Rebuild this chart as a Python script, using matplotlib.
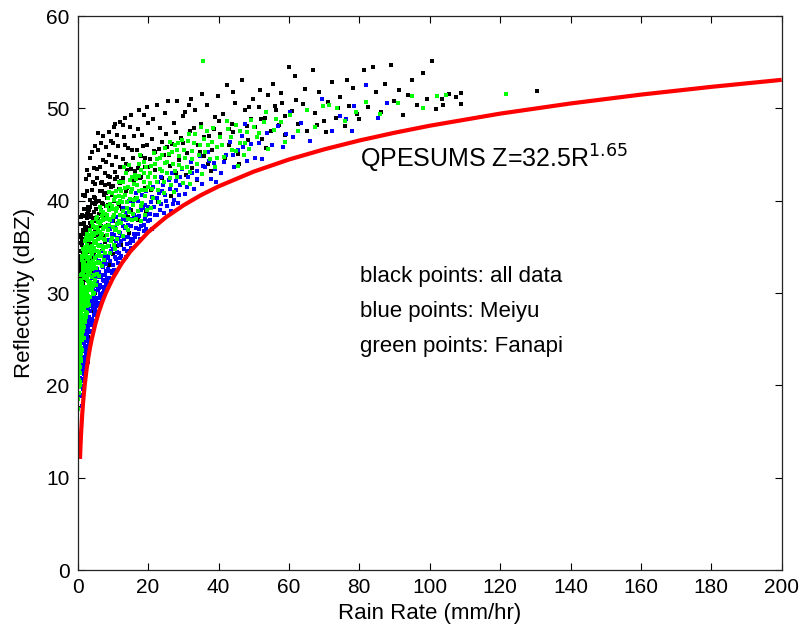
import matplotlib
matplotlib.use("Agg")
import matplotlib.pyplot as plt

plt.rcParams['font.family'] = ['Liberation Sans', 'DejaVu Sans']

# ---- data (rain rate mm/hr, reflectivity dBZ) ----
black_pts = [
    # R 0-1
    (0.1, 26.3), (0.2, 28.5), (0.3, 30.8), (0.4, 32.9), (0.5, 25.1), (0.6, 27.7), (0.7, 29.9), (0.8, 31.8),
    (0.9, 34.0), (1.0, 28.2), (0.1, 33.1), (0.2, 24.2), (0.3, 35.4), (0.4, 26.8), (0.5, 31.5), (0.6, 33.6),
    (0.7, 22.3), (0.8, 25.9), (0.9, 30.3), (1.0, 36.1), (0.2, 31.2), (0.3, 20.1), (0.4, 29.4), (0.5, 37.5),
    (0.6, 23.6), (0.7, 32.7), (0.8, 38.2), (0.9, 27.0), (0.2, 17.6), (1.0, 32.4),
    # R 1-2
    (1.1, 30.9), (1.2, 33.3), (1.3, 35.6), (1.4, 31.2), (1.5, 33.9), (1.6, 36.4), (1.7, 29.8), (1.8, 32.2),
    (1.9, 34.7), (2.0, 37.0), (1.1, 27.5), (1.2, 38.4), (1.3, 29.2), (1.4, 36.8), (1.5, 24.6), (1.6, 31.0),
    (1.7, 39.1), (1.8, 28.4), (1.9, 31.5), (2.0, 40.6), (1.1, 35.2), (1.2, 26.0), (1.3, 32.0), (1.4, 40.6),
    (1.5, 29.7), (1.6, 34.2), (1.7, 26.8), (1.8, 37.6), (1.9, 22.5), (2.0, 29.1),
    # R 2-3
    (2.1, 32.6), (2.2, 35.0), (2.3, 37.2), (2.4, 33.5), (2.5, 35.8), (2.6, 38.1), (2.7, 32.1), (2.8, 34.4),
    (2.9, 36.8), (3.0, 39.3), (2.1, 28.3), (2.2, 40.5), (2.3, 31.4), (2.4, 42.3), (2.5, 29.0), (2.6, 33.7),
    (2.7, 41.0), (2.8, 30.6), (2.9, 25.2), (3.0, 35.5), (2.2, 24.0), (2.5, 43.3), (2.7, 36.5), (2.9, 38.9),
    (2.3, 27.1),
    # R 3-5
    (3.1, 34.6), (3.2, 36.9), (3.3, 39.0), (3.4, 35.3), (3.5, 37.6), (3.6, 40.1), (3.7, 33.8), (3.8, 36.2),
    (3.9, 38.4), (4.0, 41.2), (4.1, 35.0), (4.2, 37.3), (4.3, 42.0), (4.4, 36.4), (4.5, 38.8), (4.6, 43.5),
    (4.7, 34.1), (4.8, 39.6), (4.9, 41.8), (5.0, 36.7), (3.2, 30.5), (3.5, 44.6), (3.8, 28.1), (4.1, 45.3),
    (4.4, 32.2), (4.7, 40.4), (5.0, 30.0), (3.3, 42.8), (4.3, 26.5), (4.9, 45.9),
    # R 5-8
    (5.2, 37.8), (5.4, 40.0), (5.6, 42.5), (5.8, 36.3), (6.0, 38.6), (6.2, 41.1), (6.4, 43.6), (6.6, 37.3),
    (6.8, 39.7), (7.0, 42.0), (7.2, 44.4), (7.4, 38.1), (7.6, 40.6), (7.8, 43.0), (8.0, 39.4), (5.3, 33.9),
    (5.7, 45.5), (6.1, 31.9), (6.5, 46.2), (6.9, 34.6), (7.3, 47.0), (7.7, 35.5), (5.5, 43.4), (6.3, 28.9),
    (7.1, 36.2), (7.9, 45.8), (5.9, 47.3), (6.7, 41.9), (7.5, 30.4), (5.1, 39.9),
    # R 8-12
    (8.3, 40.3), (8.6, 42.7), (8.9, 45.0), (9.2, 39.2), (9.5, 41.5), (9.8, 43.9), (10.1, 46.2), (10.4, 40.0),
    (10.7, 42.4), (11.0, 44.7), (11.3, 47.1), (11.6, 41.3), (11.9, 43.6), (8.5, 37.4), (9.0, 47.4), (9.6, 35.9),
    (10.2, 48.0), (10.9, 38.2), (11.5, 45.9), (8.8, 33.0), (9.9, 37.8), (11.1, 35.1), (10.5, 48.3), (12.0, 48.5),
    (8.1, 44.2), (9.4, 46.5), (11.8, 39.4), (10.0, 34.2),
    # R 12-16
    (12.4, 42.1), (12.8, 44.5), (13.2, 46.9), (13.6, 41.0), (14.0, 43.3), (14.4, 45.7), (14.8, 48.0), (15.2, 42.2),
    (15.6, 44.6), (16.0, 47.0), (12.6, 39.1), (13.4, 46.0), (14.2, 38.2), (15.0, 49.3), (15.8, 40.0), (13.0, 48.2),
    (14.6, 36.5), (15.4, 45.5), (12.2, 35.2), (13.8, 44.0), (15.1, 39.0), (13.4, 49.0),
    # R 16-20
    (16.4, 43.2), (16.8, 45.5), (17.2, 47.8), (17.6, 42.5), (18.0, 44.8), (18.4, 47.1), (18.8, 49.3), (19.2, 43.6),
    (19.6, 46.0), (20.0, 48.4), (16.6, 40.3), (17.4, 49.8), (18.2, 39.6), (19.0, 41.4), (19.8, 50.2), (17.0, 37.9),
    (18.6, 45.9), (19.4, 38.8),
    # R 20-30
    (20.5, 44.5), (21.0, 46.7), (21.5, 48.9), (22.0, 43.3), (22.5, 50.4), (23.0, 45.6), (23.5, 47.9), (24.0, 42.5),
    (24.5, 44.9), (25.0, 47.2), (25.6, 50.8), (26.2, 43.8), (26.8, 46.1), (27.4, 48.4), (28.2, 50.8), (28.8, 44.4),
    (29.4, 46.8), (30.0, 49.2), (20.8, 41.2), (22.8, 39.9), (24.8, 49.5), (26.5, 40.5), (27.8, 43.0), (29.1, 41.7),
    (21.8, 45.4), (25.3, 45.8),
    # R 30-40
    (30.5, 49.6), (31.0, 45.2), (31.8, 47.5), (32.6, 43.5), (33.4, 49.8), (34.2, 46.0), (35.0, 48.3), (35.8, 44.8),
    (36.6, 50.4), (37.4, 47.0), (38.2, 45.5), (39.0, 49.1), (39.8, 51.3), (30.8, 42.8), (32.2, 51.0), (33.8, 42.2),
    (35.4, 51.6), (36.9, 44.0), (38.6, 47.8), (34.6, 45.3), (37.8, 43.2), (31.5, 50.4),
    # R 40-50
    (40.5, 47.2), (41.3, 49.4), (42.4, 52.5), (43.0, 46.0), (43.8, 48.3), (44.6, 50.6), (45.4, 45.1), (46.2, 47.5),
    (46.7, 53.1), (47.5, 49.8), (48.3, 46.6), (49.1, 48.9), (49.9, 51.0), (41.8, 44.6), (44.0, 51.8), (45.9, 44.0),
    (48.7, 50.2), (42.9, 47.8),
    # R 50-60
    (50.5, 48.0), (51.4, 50.2), (52.3, 46.7), (53.2, 49.0), (54.1, 51.4), (55.0, 47.6), (55.4, 52.6), (56.3, 49.8),
    (57.2, 48.2), (58.1, 50.6), (59.0, 47.1), (59.9, 54.5), (51.8, 52.0), (53.6, 45.7), (57.8, 51.7), (58.8, 49.2),
    # R 60-80
    (60.8, 49.7), (61.6, 53.5), (62.6, 48.3), (63.9, 50.5), (65.2, 47.6), (66.8, 54.2), (67.5, 49.5), (68.6, 51.8),
    (69.9, 48.6), (71.0, 50.7), (72.2, 52.9), (73.4, 49.0), (74.6, 51.2), (75.8, 48.1), (77.0, 50.3), (78.2, 52.2),
    (79.4, 49.4), (64.5, 52.1), (70.5, 47.4), (76.4, 53.1),
    # R 80-130
    (81.3, 54.2), (82.5, 50.1), (83.9, 54.5), (84.8, 51.8), (86.1, 49.6), (87.4, 52.6), (88.9, 54.7), (89.8, 50.8),
    (91.2, 52.0), (92.5, 49.3), (93.7, 51.5), (95.0, 53.1), (96.4, 50.4), (98.1, 53.8), (99.3, 51.0), (100.6, 55.1),
    (101.8, 49.9), (103.6, 51.0), (103.7, 50.4), (105.5, 51.6), (107.6, 51.2), (108.8, 51.7), (108.8, 50.5),
    (130.5, 51.9),
    # core
    (0.15, 29.4), (0.35, 27.3), (0.55, 34.6), (0.75, 36.3), (0.95, 31.0), (1.15, 33.8), (1.35, 37.5), (1.55, 35.9),
    (1.75, 33.1), (1.95, 38.3), (2.15, 36.6), (2.35, 34.5), (2.55, 37.0), (2.75, 38.6), (2.95, 35.2), (3.15, 38.2),
    (3.35, 36.0), (3.55, 39.3), (3.75, 37.1), (3.95, 35.8), (4.15, 39.8), (4.35, 38.0), (4.55, 36.2), (4.75, 38.1),
    (4.95, 40.3), (5.3, 39.1), (5.7, 38.0), (6.1, 40.0), (6.5, 39.0), (6.9, 41.0), (7.3, 39.6), (7.7, 41.7),
    (8.1, 40.8), (8.5, 39.5), (8.9, 41.8), (9.3, 42.6), (9.7, 40.6), (10.1, 41.6), (10.5, 43.1), (10.9, 41.0),
    (11.3, 42.6), (12.0, 41.9), (13.0, 42.5), (14.0, 41.4), (15.0, 43.4), (16.0, 42.1), (17.0, 43.5), (18.0, 42.6),
    (19.0, 44.6), (20.0, 43.6), (22.0, 45.3), (24.0, 46.4), (26.0, 45.0), (28.0, 47.4), (30.0, 46.2), (33.0, 47.9),
    (36.0, 46.9), (40.0, 48.6), (44.0, 47.4), (48.0, 48.1), (52.0, 48.8), (56.0, 50.3), (62.0, 50.9), (68.0, 48.2),
    (74.0, 50.0), (80.0, 48.9),
]

blue_pts = [
    (0.3, 27.5), (0.5, 29.2), (0.7, 26.4), (0.9, 24.0), (0.4, 22.3), (0.6, 20.8), (0.8, 28.6), (1.0, 21.9),
    (0.2, 30.0), (0.9, 18.8), (0.7, 23.5), (0.5, 25.1),
    (1.1, 19.0), (1.2, 21.4), (1.3, 23.8), (1.4, 20.5), (1.5, 22.7), (1.6, 25.0), (1.7, 21.8), (1.8, 24.1),
    (1.9, 26.3), (2.0, 22.9), (1.1, 24.6), (1.2, 17.8), (1.3, 26.9), (1.4, 25.2), (1.5, 19.6), (1.6, 22.0),
    (1.7, 27.4), (1.8, 21.2), (1.9, 23.7), (2.0, 25.8),
    (2.1, 21.9), (2.2, 24.3), (2.3, 26.5), (2.4, 23.0), (2.5, 25.4), (2.6, 27.7), (2.7, 24.2), (2.8, 26.6),
    (2.9, 28.5), (3.0, 24.9), (2.1, 26.8), (2.2, 22.4), (2.3, 28.9), (2.4, 25.7), (2.5, 23.5), (2.6, 24.8),
    (2.7, 27.9), (2.8, 23.9), (2.9, 26.0), (3.0, 28.2),
    (3.1, 24.6), (3.2, 26.9), (3.3, 29.3), (3.4, 25.8), (3.5, 28.1), (3.6, 30.4), (3.7, 26.5), (3.8, 28.8),
    (3.9, 31.0), (4.0, 27.2), (4.1, 29.5), (4.2, 26.8), (4.3, 28.4), (4.4, 30.7), (4.5, 27.6), (4.6, 29.8),
    (4.7, 31.6), (4.8, 28.3), (4.9, 30.2), (5.0, 27.9), (3.3, 27.4), (3.7, 24.9), (4.1, 32.0), (4.5, 26.3),
    (4.9, 32.4), (3.5, 31.3),
    (5.1, 28.6), (5.3, 30.8), (5.5, 32.6), (5.7, 29.5), (5.9, 31.7), (6.1, 33.5), (6.3, 29.9), (6.5, 32.0),
    (6.7, 34.0), (6.9, 30.6), (7.1, 32.8), (7.3, 34.5), (7.5, 31.3), (7.7, 33.4), (7.9, 30.9), (5.2, 33.9),
    (5.6, 27.9), (6.0, 30.5), (6.4, 28.9), (6.8, 33.1), (7.2, 30.0), (7.6, 35.0), (8.0, 32.4), (5.4, 31.2),
    (6.2, 35.2), (7.0, 29.6),
    (8.2, 31.6), (8.5, 33.8), (8.8, 35.7), (9.1, 32.4), (9.4, 34.6), (9.7, 36.4), (10.0, 33.0), (10.3, 35.2),
    (10.6, 37.0), (10.9, 33.7), (11.2, 35.9), (11.5, 37.6), (11.8, 34.3), (12.0, 36.5), (8.4, 36.3), (9.0, 31.6),
    (9.6, 37.8), (10.2, 32.5), (10.8, 38.2), (11.4, 33.3), (8.7, 34.0), (11.0, 36.8),
    (12.3, 34.0), (12.6, 36.2), (12.9, 38.0), (13.2, 34.8), (13.5, 37.0), (13.8, 38.7), (14.1, 35.3), (14.4, 37.4),
    (14.7, 39.1), (15.0, 35.9), (15.3, 38.0), (15.6, 39.6), (15.9, 36.4), (12.8, 39.2), (13.6, 33.9), (14.5, 40.0),
    (15.2, 34.9), (13.9, 36.1),
    (16.3, 36.1), (16.7, 38.2), (17.1, 40.0), (17.5, 36.9), (17.9, 39.0), (18.3, 40.6), (18.7, 37.4), (19.1, 39.5),
    (19.5, 41.0), (19.9, 37.8), (16.5, 40.8), (17.7, 35.8), (18.9, 36.7), (19.3, 38.4),
    (20.4, 37.9), (20.9, 39.9), (21.4, 41.5), (21.9, 38.4), (22.4, 40.3), (22.9, 42.0), (23.4, 39.0), (23.9, 41.1),
    (24.4, 38.7), (24.9, 40.6), (21.2, 36.9), (23.6, 42.6),
    (25.5, 39.4), (26.1, 41.3), (26.7, 43.0), (27.3, 40.1), (27.9, 42.1), (28.5, 39.8), (29.1, 41.7), (29.7, 43.4),
    (26.4, 38.9), (28.8, 40.6),
    (30.6, 40.7), (31.4, 42.6), (32.2, 44.2), (33.0, 41.3), (33.8, 43.2), (34.6, 44.8), (35.4, 41.8), (36.2, 43.7),
    (37.0, 45.3), (37.8, 42.4), (38.6, 44.1), (39.4, 42.0),
    (40.8, 43.0), (42.0, 45.0), (43.2, 46.4), (44.4, 43.6), (45.6, 45.5), (46.8, 47.0), (48.0, 44.3), (49.2, 46.1),
    (47.4, 48.3),
    (50.5, 44.6), (52.3, 44.5), (53.7, 47.3), (55.2, 46.0), (56.8, 48.1), (58.3, 45.8), (60.4, 49.6), (59.2, 47.2),
    (61.3, 46.9), (63.5, 48.4), (66.0, 46.5), (69.4, 51.0), (72.3, 47.6), (74.5, 49.2), (78.0, 47.6), (78.6, 50.3),
    (76.2, 48.8),
    (82.0, 52.5), (85.3, 49.0), (88.0, 50.6),
    # core
    (0.55, 27.0), (0.75, 24.9), (0.95, 22.8), (1.05, 26.1), (1.25, 19.9), (1.45, 23.1), (1.65, 20.7), (1.75, 24.7),
    (1.95, 21.3), (2.05, 24.2), (2.15, 20.9), (2.25, 23.4), (2.35, 25.0), (2.45, 22.4), (2.55, 26.2), (2.65, 23.1),
    (2.75, 25.5), (2.85, 22.5), (2.95, 27.2), (1.35, 22.3),
    (3.05, 26.1), (3.25, 24.3), (3.45, 27.0), (3.65, 29.1), (3.85, 25.9), (4.05, 28.6), (4.25, 30.8), (4.45, 28.9),
    (4.65, 27.0), (4.85, 29.4), (5.05, 31.5), (5.25, 29.0), (5.45, 27.7), (5.65, 30.3), (5.85, 28.7), (6.05, 32.3),
    (6.25, 30.9), (6.45, 29.6), (6.65, 31.7), (6.85, 29.4), (7.05, 31.4), (7.25, 33.3), (7.45, 30.4), (7.65, 32.0),
    (7.85, 34.0),
    (8.1, 33.1), (8.4, 31.2), (8.7, 32.6), (9.0, 35.1), (9.3, 33.5), (9.6, 32.2), (9.9, 34.8), (10.2, 36.3),
    (10.5, 33.9), (10.8, 35.6), (11.1, 34.4), (11.4, 36.0), (11.7, 35.2), (12.0, 33.8), (12.4, 35.6), (12.8, 37.3),
    (13.2, 35.9), (13.6, 37.9), (14.0, 34.6), (14.4, 36.1), (14.8, 35.4), (15.2, 37.3), (15.6, 35.6), (16.0, 38.4),
    (9.3, 36.9),
    (16.5, 37.0), (17.0, 36.4), (17.5, 38.3), (18.0, 37.3), (18.5, 39.2), (19.0, 38.0), (19.5, 36.9), (20.0, 39.3),
    (20.6, 38.6), (21.2, 40.4), (21.8, 39.3), (22.4, 38.5), (23.0, 40.8), (23.6, 39.6), (24.2, 41.7), (25.0, 40.0),
    (26.0, 42.2), (27.0, 39.6), (28.0, 41.2), (29.0, 42.6),
    (31.0, 41.5), (32.5, 43.0), (34.0, 42.4), (35.5, 43.8), (37.2, 44.3), (39.0, 43.4), (41.5, 44.2), (44.0, 45.0),
    (47.0, 45.8), (51.5, 46.3),
]

green_pts = [
    (0.1, 18.5), (0.2, 21.0), (0.3, 23.4), (0.1, 25.2), (0.4, 27.1), (0.2, 29.3), (0.3, 19.8), (0.5, 22.2),
    (0.1, 24.0), (0.4, 25.9), (0.2, 27.8), (0.3, 30.1), (0.5, 26.4), (0.1, 28.6), (0.2, 23.1), (0.4, 20.6),
    (0.3, 26.0), (0.5, 28.9), (0.2, 17.4), (0.4, 23.9), (0.1, 21.7), (0.3, 27.3), (0.5, 24.6), (0.2, 25.5),
    (0.4, 29.8),
    (0.6, 21.3), (0.7, 24.5), (0.8, 27.2), (0.9, 29.6), (1.0, 31.4), (0.6, 26.1), (0.7, 28.8), (0.8, 22.9),
    (0.9, 25.7), (1.0, 27.9), (0.6, 30.5), (0.7, 20.0), (0.8, 31.1), (0.9, 23.4), (1.0, 25.0), (0.6, 23.8),
    (0.7, 27.0), (0.8, 29.1), (0.9, 32.0), (1.0, 29.8), (0.6, 28.3), (0.7, 30.9), (0.8, 25.3), (0.9, 27.5),
    (1.0, 22.6),
    (1.1, 26.2), (1.2, 28.7), (1.3, 30.9), (1.4, 33.2), (1.5, 27.4), (1.6, 29.8), (1.7, 31.6), (1.8, 34.3),
    (1.9, 28.5), (2.0, 30.7), (1.1, 23.8), (1.2, 32.1), (1.3, 25.6), (1.4, 29.0), (1.5, 31.9), (1.6, 26.7),
    (1.7, 28.2), (1.8, 30.1), (1.9, 32.8), (2.0, 27.3), (1.1, 29.9), (1.2, 24.9), (1.3, 33.6), (1.4, 27.2),
    (1.5, 34.8), (1.6, 32.5), (1.7, 25.1), (1.8, 27.6), (1.9, 30.4), (2.0, 33.9),
    (2.1, 29.4), (2.2, 31.8), (2.3, 34.1), (2.4, 28.0), (2.5, 30.6), (2.6, 32.9), (2.7, 35.2), (2.8, 29.7),
    (2.9, 31.3), (3.0, 33.7), (2.1, 26.9), (2.2, 35.6), (2.3, 30.2), (2.4, 32.4), (2.5, 27.8), (2.6, 34.5),
    (2.7, 30.0), (2.8, 32.2), (2.9, 34.6), (3.0, 29.1), (2.4, 36.0), (2.6, 28.6),
    (3.1, 31.0), (3.2, 33.4), (3.3, 35.7), (3.4, 29.6), (3.5, 32.3), (3.6, 34.8), (3.7, 30.5), (3.8, 33.0),
    (3.9, 36.1), (4.0, 31.7), (4.1, 34.2), (4.2, 36.5), (4.3, 30.8), (4.4, 33.5), (4.5, 35.4), (4.6, 32.0),
    (4.7, 34.9), (4.8, 37.0), (4.9, 31.4), (5.0, 33.8), (3.2, 28.7), (3.6, 31.2), (4.0, 35.9), (4.4, 29.9),
    (4.8, 33.2), (3.4, 36.8), (4.2, 32.6), (4.6, 36.3),
    (5.1, 35.6), (5.3, 32.7), (5.5, 34.5), (5.7, 36.8), (5.9, 33.4), (6.1, 35.1), (6.3, 37.5), (6.5, 34.0),
    (6.7, 36.2), (6.9, 38.3), (7.1, 34.8), (7.3, 36.9), (7.5, 33.6), (7.7, 35.7), (7.9, 38.0), (5.2, 30.9),
    (5.6, 38.2), (6.0, 31.8), (6.4, 36.0), (6.8, 32.9), (7.2, 38.8), (7.6, 37.2), (8.0, 35.0), (5.4, 37.1),
    (5.8, 35.2), (6.2, 33.3), (6.6, 38.9), (7.0, 36.4),
    (8.2, 36.3), (8.4, 38.5), (8.7, 35.1), (9.0, 37.4), (9.3, 39.6), (9.6, 36.0), (9.9, 38.2), (10.2, 40.1),
    (10.5, 36.8), (10.8, 38.9), (11.1, 37.5), (11.4, 39.8), (11.7, 36.6), (12.0, 38.4), (8.5, 40.3), (9.1, 34.3),
    (9.8, 40.8), (10.4, 35.2), (11.0, 41.0), (11.6, 40.5), (8.9, 38.0), (10.0, 39.1), (11.3, 35.8), (12.0, 41.3),
    (12.3, 37.6), (12.6, 39.9), (12.9, 42.0), (13.2, 38.3), (13.5, 40.6), (13.8, 37.1), (14.1, 39.2), (14.4, 41.5),
    (14.7, 38.8), (15.0, 40.9), (15.3, 42.6), (15.6, 39.5), (15.9, 41.8), (12.8, 36.2), (13.6, 43.0), (14.2, 36.8),
    (14.9, 42.2), (15.5, 37.9), (13.0, 40.4), (15.8, 38.6),
    (16.3, 40.2), (16.7, 42.4), (17.1, 38.9), (17.5, 41.1), (17.9, 43.3), (18.3, 39.8), (18.7, 42.0), (19.1, 40.5),
    (19.5, 43.6), (19.9, 41.5), (16.5, 38.0), (17.3, 44.0), (18.1, 37.8), (18.9, 44.2), (19.7, 39.0), (16.9, 41.7),
    (20.4, 41.9), (20.9, 43.8), (21.4, 40.3), (21.9, 42.6), (22.4, 44.5), (22.9, 41.2), (23.4, 43.4), (23.9, 45.0),
    (24.4, 42.0), (24.9, 44.1), (20.7, 39.2), (21.6, 45.2), (23.1, 39.9), (24.6, 40.8),
    (25.4, 43.0), (25.9, 45.1), (26.5, 41.7), (27.1, 44.0), (27.7, 46.0), (28.3, 42.6), (28.9, 44.8), (29.5, 43.5),
    (26.2, 46.4), (27.4, 40.9), (28.6, 46.3), (29.8, 41.9),
    (30.5, 44.6), (31.2, 46.5), (31.9, 43.1), (32.6, 45.4), (33.3, 47.2), (34.0, 44.0), (34.7, 46.0), (35.4, 42.9),
    (36.1, 45.3), (36.8, 47.5), (37.5, 44.5), (38.2, 46.4), (38.9, 43.6), (39.6, 45.8), (32.0, 41.8), (35.0, 48.0),
    (40.5, 46.9), (41.6, 44.7), (42.7, 47.8), (43.8, 45.5), (44.9, 48.2), (46.0, 46.3), (47.1, 44.9), (48.2, 47.4),
    (49.3, 48.7), (45.5, 43.8),
    (50.8, 46.9), (52.8, 48.5), (54.1, 45.6), (55.9, 47.7), (57.7, 48.5), (58.8, 46.4), (60.2, 49.3),
    (62.5, 47.6), (65.0, 49.8), (67.3, 48.0), (69.8, 50.3), (71.5, 50.4), (73.7, 50.0), (76.0, 48.6), (79.0, 49.6),
    (81.8, 50.7), (86.0, 49.4), (91.0, 50.6), (95.1, 51.3), (98.1, 50.0), (102.2, 51.3), (104.6, 51.4),
    (35.6, 55.1), (121.7, 51.6),
    # core
    (0.15, 22.5), (0.25, 26.7), (0.35, 29.0), (0.45, 21.4), (0.55, 25.3), (0.65, 29.5), (0.75, 22.0), (0.85, 26.0),
    (0.95, 30.6), (0.15, 30.4), (0.25, 19.2), (0.35, 24.8), (0.45, 31.2), (0.55, 20.4), (0.65, 27.4), (0.75, 31.9),
    (0.85, 24.1), (0.95, 28.3), (0.35, 21.9), (0.65, 23.0),
    (1.05, 30.3), (1.15, 27.1), (1.25, 34.0), (1.35, 28.2), (1.45, 30.4), (1.55, 25.9), (1.65, 33.4), (1.75, 29.3),
    (1.85, 31.8), (1.95, 35.0), (2.05, 28.8), (2.15, 33.0), (2.25, 29.7), (2.35, 32.6), (2.45, 34.8), (2.55, 31.5),
    (2.65, 29.2), (2.75, 33.8), (2.85, 36.1), (2.95, 32.5), (1.25, 31.1), (1.55, 32.9), (1.85, 26.3), (2.35, 27.4),
    (2.65, 36.4),
    (3.05, 34.9), (3.15, 32.0), (3.3, 30.3), (3.45, 33.9), (3.6, 36.3), (3.75, 32.7), (3.9, 34.4), (4.05, 30.3),
    (4.2, 35.1), (4.35, 37.3), (4.5, 33.0), (4.65, 31.1), (4.8, 35.6), (4.95, 34.6), (5.1, 33.2), (5.25, 36.5),
    (5.4, 34.0), (5.55, 32.1), (5.7, 35.9), (5.85, 37.7), (6.0, 34.4), (3.5, 35.0), (4.1, 37.7), (4.7, 30.0),
    (5.3, 38.0),
    (6.2, 36.6), (6.5, 37.8), (6.8, 35.1), (7.1, 37.9), (7.4, 35.9), (7.7, 38.6), (8.0, 37.3), (8.3, 39.4),
    (8.6, 36.8), (8.9, 39.0), (9.2, 37.9), (9.5, 35.6), (9.8, 39.4), (10.1, 37.2), (10.4, 38.5), (10.7, 40.4),
    (11.0, 36.9), (11.3, 39.2), (11.6, 37.8), (11.9, 40.0), (6.4, 39.3), (7.8, 34.3), (9.0, 40.9), (10.6, 34.8),
    (11.8, 42.0),
    (12.4, 41.0), (12.9, 38.9), (13.4, 41.4), (13.9, 39.9), (14.4, 38.0), (14.9, 40.2), (15.4, 41.3), (15.9, 40.1),
    (16.4, 42.8), (16.9, 40.3), (17.4, 42.7), (17.9, 39.4), (18.4, 41.2), (18.9, 43.0), (19.4, 41.2), (19.9, 42.6),
    (13.1, 43.6), (14.7, 43.9), (17.7, 45.0), (19.2, 38.4),
    (20.5, 43.0), (21.2, 41.3), (21.9, 44.0), (22.6, 42.0), (23.3, 44.6), (24.0, 43.2), (24.7, 45.7), (25.4, 44.2),
    (26.1, 42.5), (26.8, 45.3), (27.5, 43.2), (28.2, 45.5), (28.9, 43.9), (29.6, 46.6), (30.3, 45.5), (31.0, 43.7),
    (31.7, 47.2), (32.4, 44.5), (33.1, 46.2), (34.5, 45.0),
    (35.8, 46.7), (37.1, 46.0), (38.4, 47.9), (39.7, 44.6), (41.0, 46.0), (42.3, 48.6), (43.6, 46.9), (44.9, 45.4),
    (46.2, 47.6), (47.5, 46.2), (48.8, 45.6), (50.1, 48.0), (51.4, 47.3), (53.5, 49.6), (56.2, 48.8),
]

# QPESUMS Z=32.5R^1.65 curve, tabulated in dBZ
curve_rain = [0.65, 0.7, 0.8, 0.9, 1.0, 1.25, 1.5, 1.75, 2, 2.5, 3, 3.5, 4, 5, 6, 7, 8, 10, 12.5, 15,
              20, 25, 30, 35, 40, 50, 60, 70, 80, 90, 100, 120, 140, 160, 180, 200]
curve_dbz = [12.03, 12.56, 13.52, 14.36, 15.12, 16.72, 18.03, 19.13, 20.09, 21.69, 22.99, 24.10, 25.05,
             26.65, 27.96, 29.06, 30.02, 31.62, 33.22, 34.53, 36.59, 38.19, 39.49, 40.60, 41.55, 43.15,
             44.46, 45.56, 46.52, 47.36, 48.12, 49.43, 50.53, 51.49, 52.33, 53.09]

notes = ["black points: all data", "blue points: Meiyu", "green points: Fanapi"]

fig = plt.figure(figsize=(8.02, 6.34), dpi=100)
ax = fig.add_axes([0.0969, 0.1009, 0.8778, 0.8738])

for pts, col in [(black_pts, '#000000'), (blue_pts, '#0000ff'), (green_pts, '#00ff00')]:
    r, z = zip(*pts)
    ax.plot(r, z, ls='none', marker='s', ms=2.4, mew=0, color=col)

ax.plot(curve_rain, curve_dbz, color='#ff0000', lw=3.0, solid_capstyle='butt')

ax.text(80.2, 43.6, "QPESUMS Z=32.5R$^{1.65}$", fontsize=18)
for i, t in enumerate(notes):
    ax.text(80.2, 31.2 - 3.8 * i, t, fontsize=16)

ax.set_xlim(0, 200)
ax.set_ylim(0, 60)
ax.set_xticks(range(0, 201, 20))
ax.set_yticks(range(0, 61, 10))
ax.tick_params(direction='in', length=5, width=0.8, labelsize=15, top=True, right=True, pad=6)
ax.set_xlabel("Rain Rate (mm/hr)", fontsize=16, labelpad=4)
ax.set_ylabel("Reflectivity (dBZ)", fontsize=16, labelpad=8)
for sp in ax.spines.values():
    sp.set_linewidth(0.9)
    sp.set_color('#222222')

fig.savefig("out.png", dpi=100)
